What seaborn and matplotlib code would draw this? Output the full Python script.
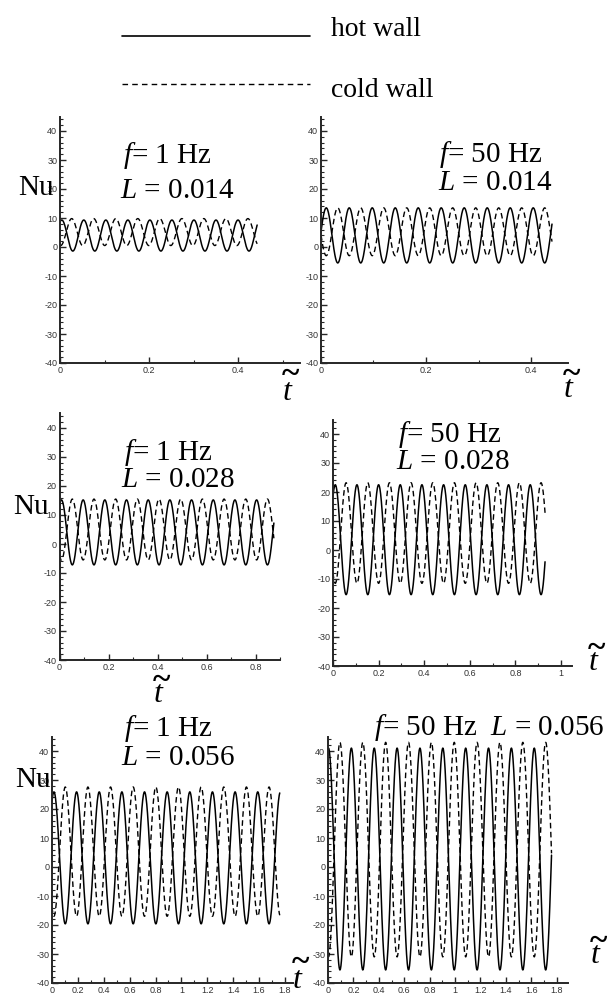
import numpy as np
import pandas as pd
import matplotlib
matplotlib.use('Agg')
import matplotlib.pyplot as plt
import seaborn as sns
from matplotlib.ticker import MultipleLocator, FuncFormatter
from matplotlib.lines import Line2D

# values, one entry per panel (row by row, left then right)
freq_label = ['1', '50', '1', '50', '1', '50']
length_label = ['0.014', '0.014', '0.028', '0.028', '0.056', '0.056']
t_end = [0.443, 0.44, 0.875, 0.93, 1.76, 1.76]
period = [0.0495, 0.0438, 0.0885, 0.095, 0.175, 0.18]
first_peak = [0.004, 0.010, 0.008, 0.010, 0.015, 0.004]
hot_max = [9.3, 13.5, 15.2, 22.5, 25.9, 41.0]
hot_min = [-1.4, -5.5, -7.2, -15.4, -19.6, -35.5]
cold_max = [9.8, 13.5, 15.5, 23.2, 27.6, 43.0]
cold_min = [0.5, -3.0, -5.5, -11.5, -17.0, -31.0]
cold_lag = [0.45, 0.5, 0.5, 0.5, 0.5, 0.5]   # cold wall lag, fraction of a period

# layout in pixels
W, H = 607, 999
ax_left = [60, 321, 59.5, 333, 52, 328]
px_per_unit = [445, 525, 245, 228, 129.4, 127]
x_max = [0.54, 0.47, 0.9, 1.05, 1.86, 1.89]
ax_bottom = [363, 363, 660, 666, 983, 983]
ax_height = 246.5

sns.set_style('ticks')
plt.rcParams['mathtext.fontset'] = 'custom'
plt.rcParams['mathtext.rm'] = 'Liberation Serif'
plt.rcParams['mathtext.it'] = 'Liberation Serif:italic'

fig = plt.figure(figsize=(W / 100, H / 100), dpi=100)


def ftext(x, y, s, size=21, ha='center', va='baseline', style='normal', weight='normal'):
    fig.text(x / W, 1 - y / H, s, ha=ha, va=va, fontsize=size, style=style,
             weight=weight, family='Liberation Serif', color='black')


def sine_curve(t, hi, lo, t0, per):
    return (hi + lo) / 2 + (hi - lo) / 2 * np.cos(2 * np.pi * (t - t0) / per)


for i in range(6):
    w = x_max[i] * px_per_unit[i]
    ax = fig.add_axes([ax_left[i] / W, 1 - ax_bottom[i] / H, w / W, ax_height / H])
    t = np.linspace(0, t_end[i], 900)
    df = pd.DataFrame({
        't': t,
        'hot': sine_curve(t, hot_max[i], hot_min[i], first_peak[i], period[i]),
        'cold': sine_curve(t, cold_max[i], cold_min[i],
                           first_peak[i] + cold_lag[i] * period[i], period[i]),
    })
    sns.lineplot(data=df, x='t', y='hot', ax=ax, color='black', lw=1.1,
                 estimator=None, sort=False)
    sns.lineplot(data=df, x='t', y='cold', ax=ax, color='black', lw=1.0,
                 ls=(0, (4, 2.5)), estimator=None, sort=False)
    ax.set_xlim(0, x_max[i])
    ax.set_ylim(-40, 45)
    ax.set_xlabel('')
    ax.set_ylabel('')
    ax.xaxis.set_major_locator(MultipleLocator(0.2))
    ax.xaxis.set_minor_locator(MultipleLocator(0.1))
    ax.yaxis.set_major_locator(MultipleLocator(10))
    ax.yaxis.set_minor_locator(MultipleLocator(2))
    ax.xaxis.set_major_formatter(FuncFormatter(lambda v, p: '%g' % round(v, 3)))
    ax.yaxis.set_major_formatter(FuncFormatter(lambda v, p: '%g' % v))
    ax.set_yticks([v for v in ax.get_yticks() if -40 <= v <= 40])
    ax.tick_params(which='major', direction='in', length=4, width=1.0,
                   labelsize=6.5, labelcolor='#333333', pad=2,
                   labelfontfamily='Liberation Sans')
    ax.tick_params(which='minor', direction='in', length=2.2, width=0.8)
    ax.patch.set_alpha(0)
    sns.despine(ax=ax)
    for s in ['left', 'bottom']:
        ax.spines[s].set_linewidth(1.4)

# panel annotations
ftext(167, 163, r'$f$= %s Hz' % freq_label[0])
ftext(177, 198, r'$L$ = %s' % length_label[0])
ftext(491, 162, r'$f$= %s Hz' % freq_label[1])
ftext(495, 190, r'$L$ = %s' % length_label[1])
ftext(168, 460, r'$f$= %s Hz' % freq_label[2])
ftext(178, 487, r'$L$ = %s' % length_label[2])
ftext(450, 442, r'$f$= %s Hz' % freq_label[3])
ftext(453, 469, r'$L$ = %s' % length_label[3])
ftext(168, 736, r'$f$= %s Hz' % freq_label[4])
ftext(178, 765, r'$L$ = %s' % length_label[4])
ftext(489, 735, r'$f$= %s Hz  $L$ = %s' % (freq_label[5], length_label[5]))

# axis labels
for x, y in [(36, 188), (31, 507), (33, 780)]:
    ftext(x, y, 'Nu', size=21, va='center')
# t with a tilde over it: (x centre, t baseline, tilde centre)
for x, yb, yt in [(287, 400, 372), (568, 397, 372), (158, 702, 678),
                  (593, 670, 646), (297, 988, 960), (595, 963, 939)]:
    ftext(x, yb, 't', size=23, style='italic')
    ftext(x + 3, yt + 11, '~', size=24, weight='bold')

# legend
fig.add_artist(Line2D([122 / W, 310 / W], [1 - 36 / H, 1 - 36 / H], color='black', lw=1.2))
fig.add_artist(Line2D([122 / W, 310 / W], [1 - 84 / H, 1 - 84 / H], color='black', lw=1.0,
                      ls=(0, (4, 3))))
ftext(331, 36, 'hot wall', size=20, ha='left')
ftext(331, 97, 'cold wall', size=20, ha='left')

fig.savefig('out.png', dpi=100)
